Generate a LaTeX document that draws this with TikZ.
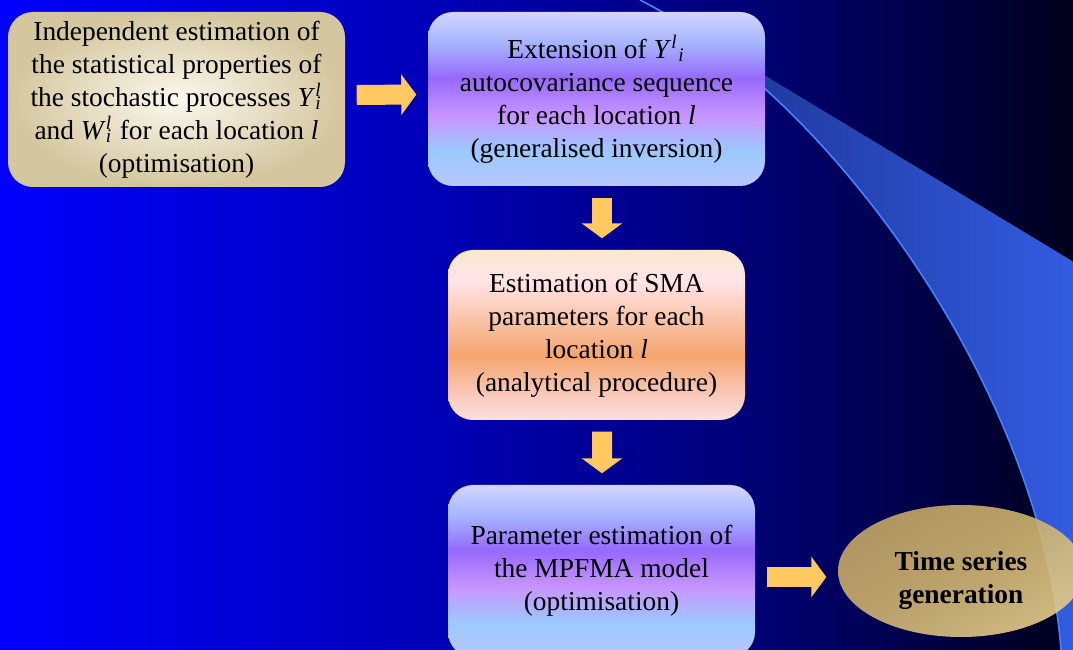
\documentclass[tikz,border=0pt]{standalone}
\usepackage{fontspec}
\setmainfont{Liberation Serif}
\usetikzlibrary{arrows.meta,shapes.geometric}

\definecolor{bgA}{RGB}{0,0,252}
\definecolor{bgB}{RGB}{0,0,182}
\definecolor{bgC}{RGB}{0,0,115}
\definecolor{bgD}{RGB}{0,0,28}
\definecolor{vA}{RGB}{212,212,255}
\definecolor{vB}{RGB}{165,180,255}
\definecolor{vC}{RGB}{150,105,250}
\definecolor{vD}{RGB}{200,150,255}
\definecolor{vE}{RGB}{155,200,255}
\definecolor{vF}{RGB}{185,200,255}
\definecolor{pA}{RGB}{250,232,205}
\definecolor{pB}{RGB}{255,228,232}
\definecolor{pC}{RGB}{245,165,110}
\definecolor{pD}{RGB}{250,205,195}
\definecolor{pE}{RGB}{250,225,220}
\definecolor{tanin}{RGB}{251,248,238}
\definecolor{tanout}{RGB}{212,198,158}
\definecolor{golddark}{RGB}{196,166,100}
\definecolor{goldmid}{RGB}{208,180,112}
\definecolor{goldlight}{RGB}{228,205,138}
\definecolor{swooshdark}{RGB}{25,45,135}
\definecolor{swooshlight}{RGB}{55,100,240}
\definecolor{swooshline}{RGB}{70,130,255}
\definecolor{arrowyellow}{RGB}{255,200,96}

\pgfdeclarehorizontalshading{slideback}{100bp}{color(0bp)=(bgA); color(25bp)=(bgA);
  color(45.5bp)=(bgB); color(60.4bp)=(bgC); color(75bp)=(bgD); color(100bp)=(bgD)}
\pgfdeclareverticalshading{violetband}{100bp}{color(0bp)=(vF); color(25bp)=(vF);
  color(35bp)=(vE); color(45bp)=(vD); color(56bp)=(vC); color(66bp)=(vB);
  color(75bp)=(vA); color(100bp)=(vA)}
\pgfdeclareverticalshading{peachband}{100bp}{color(0bp)=(pE); color(25bp)=(pE);
  color(31bp)=(pD); color(44bp)=(pC); color(66bp)=(pB); color(75bp)=(pA);
  color(100bp)=(pA)}

\newcommand{\Ystack}{\textit{Y}\rlap{\textsuperscript{\textit{l}}}\textsubscript{\textit{i}}}
\newcommand{\Wstack}{\textit{W}\rlap{\textsuperscript{\textit{l}}}\textsubscript{\textit{i}}}

\tikzset{
  box/.style={rounded corners=0.25cm, align=center, inner sep=0pt,
    font=\fontsize{7.8}{9.4}\selectfont},
  flowarrow/.style={draw=arrowyellow, line width=0.2cm,
    shorten <=0.11cm, shorten >=0.11cm,
    -{Triangle[length=0.15cm,width=0.4cm]}}
}

\begin{document}
\begin{tikzpicture}

  \path[use as bounding box, clip] (0,0) rectangle (10.73,-6.5);
  \shade[shading=slideback] (0,0) rectangle (10.73,-6.5);

  % swoosh behind the boxes
  \fill[left color=swooshdark, right color=swooshlight]
    (6.40,0) .. controls (8.20,-0.90) and (10.40,-3.80) .. (10.61,-6.50)
    -- (10.65,-7.00) -- (11.50,-7.00) -- (11.50,-3.08) -- cycle;
  \draw[swooshline, line width=0.45pt]
    (6.40,0) .. controls (8.20,-0.90) and (10.40,-3.80) .. (10.61,-6.50);

  \begin{scope}[every node/.style={box}]
    \node[inner color=tanin, outer color=tanout,
      minimum width=3.37cm, minimum height=1.75cm] (1) at (1.765,-0.995)
      {Independent estimation of\\the statistical properties of\\
       the stochastic processes \Ystack\\and \Wstack\ for each location \textit{l}\\
       (optimisation)};
    \node[shade, shading=violetband,
      minimum width=3.37cm, minimum height=1.74cm] (2) at (5.965,-0.99)
      {Extension of \textit{Y}\textsuperscript{\textit{l}}\textsubscript{\textit{i}}\\
       autocovariance sequence\\for each location \textit{l}\\(generalised inversion)};
    \node[shade, shading=peachband,
      minimum width=2.97cm, minimum height=1.70cm] (3) at (5.965,-3.35)
      {Estimation of SMA\\parameters for each\\location \textit{l}\\(analytical procedure)};
    \node[shade, shading=violetband,
      minimum width=3.07cm, minimum height=1.72cm] (4) at (6.015,-5.71)
      {Parameter estimation of\\the MPFMA model\\(optimisation)};
    \node[ellipse, rounded corners=0pt, top color=golddark, bottom color=goldlight,
      middle color=goldmid, shading angle=30, fill opacity=0.9, text opacity=1,
      minimum width=2.46cm, minimum height=1.32cm,
      font=\fontsize{7.8}{9.4}\selectfont\bfseries] (5) at (9.61,-5.71)
      {\rule{0pt}{11pt}Time series\\generation};
  \end{scope}

  \begin{scope}[every edge/.style={flowarrow}]
    \path ([yshift=0.045cm]1.east) edge ([yshift=0.045cm]2.west);
    \path ([xshift=0.055cm]2.south) edge ([xshift=0.055cm]3.north);
    \path ([xshift=0.055cm]3.south) edge ([xshift=0.005cm]4.north);
    \path ([yshift=-0.06cm]4.east) edge ([yshift=-0.06cm]5.west);
  \end{scope}

\end{tikzpicture}
\end{document}
